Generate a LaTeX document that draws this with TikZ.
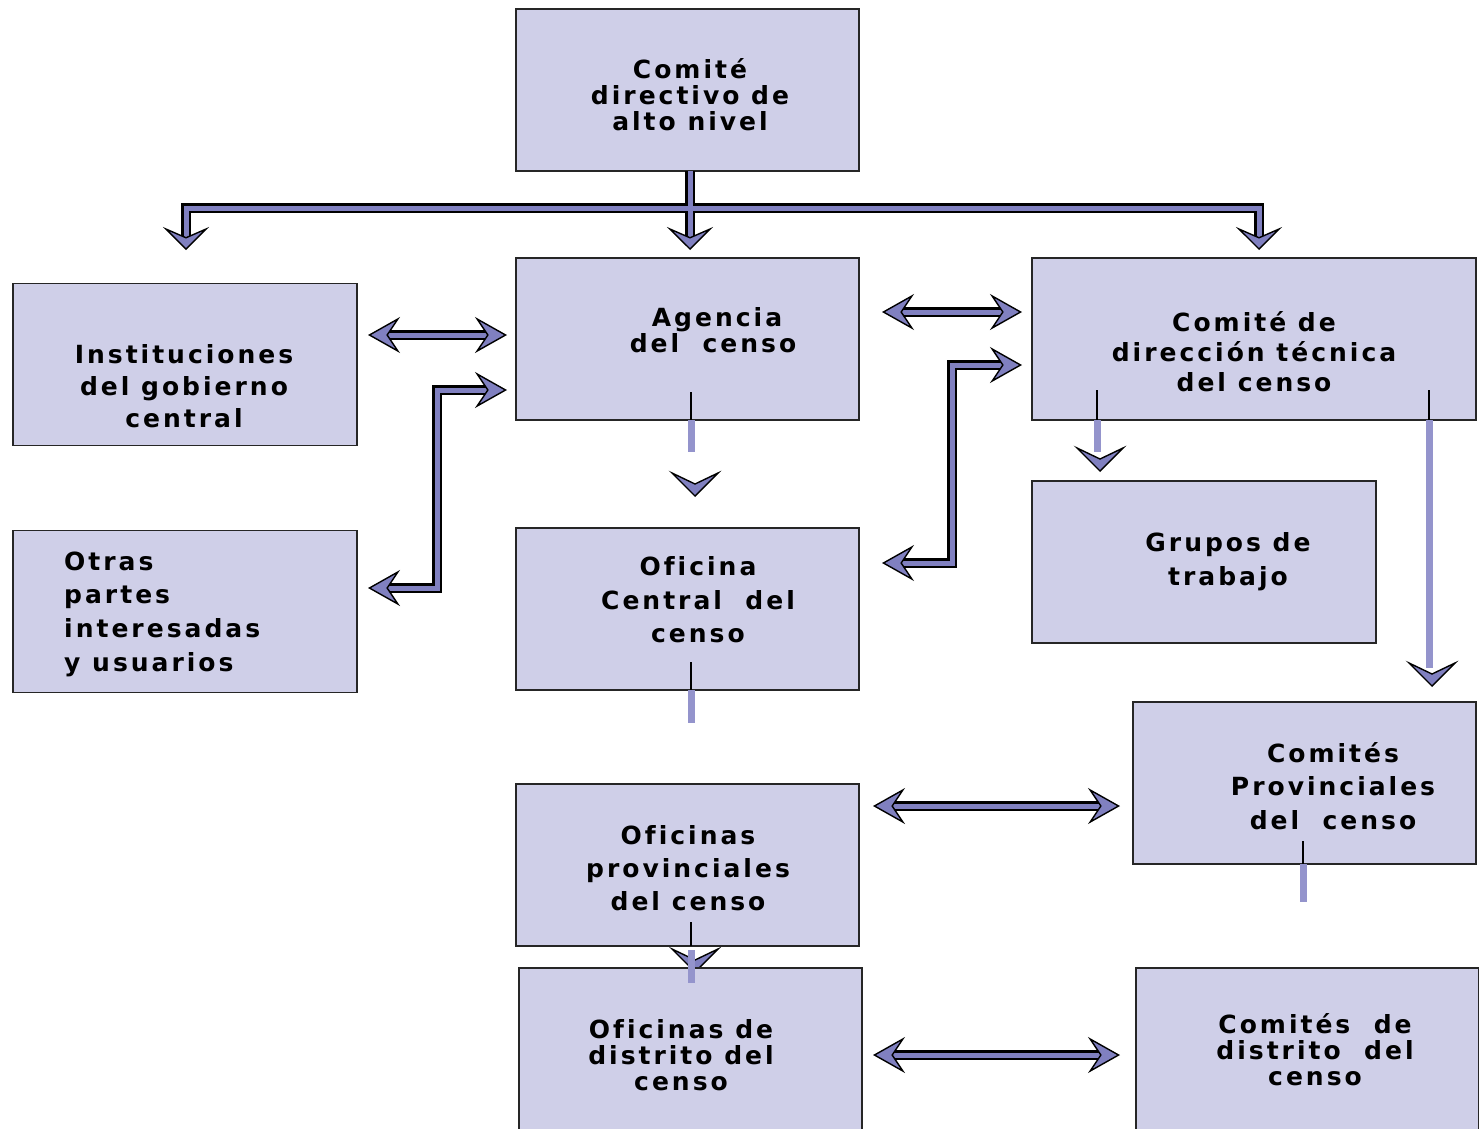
\documentclass[tikz,border=0pt]{standalone}
\usepackage{fontspec}
\newfontfamily\bx{DejaVu Sans}[LetterSpace=12,Ligatures=NoCommon]
\usetikzlibrary{arrows.meta}
\definecolor{boxcol}{RGB}{207,207,232}
\definecolor{arrowcol}{RGB}{128,128,192}
\definecolor{barcol}{RGB}{148,148,204}
\tikzset{
  HT/.tip={Stealth[length=32pt,width=36pt,inset=12pt,line width=1.4pt,color=black,fill=arrowcol]},
  VT/.tip={Stealth[length=23pt,width=46pt,inset=10pt,line width=1.4pt,color=black,fill=arrowcol]},
  box/.style={draw=black!85, line width=1.8pt, fill=boxcol, minimum width=343pt, minimum height=162pt, inner sep=0pt, outer sep=0pt},
  txt/.style={font=\bx\bfseries\fontsize{25}{#1}\selectfont, align=center, inner sep=0pt},
  hdbl/.style={draw=arrowcol, line width=5pt, {HT}-{HT}, preaction={draw=black, line width=9.5pt, -, shorten <=16pt, shorten >=16pt}},
  vsgl/.style={draw=arrowcol, line width=5pt, -{VT}, preaction={draw=black, line width=9.5pt, -, shorten >=12pt}},
  tick/.style={draw=black, line width=1.5pt},
  bar/.style={draw=barcol, line width=7pt},
  chev/.pic={\draw[black, line width=1.4pt, fill=arrowcol] (-23,-23) -- (0,0) -- (23,-23) -- (0,-12) -- cycle;}
}
\begin{document}
\begin{tikzpicture}[x=1pt,y=-1pt]
\useasboundingbox (0,0) rectangle (1479,1128);
\clip (0,0) rectangle (1479,1128);
\fill[white] (0,0) rectangle (1479,1128);
% chevron partly hidden behind the district office box
\pic at (695,972) {chev};
% boxes
\node[box] (top) at (687.5,90) {};
\node[box, minimum width=344pt] (inst) at (185,364.5) {};
\node[box] (ag) at (687.5,339) {};
\node[box, minimum width=444pt] (tec) at (1254,339) {};
\node[box, minimum width=344pt] (otras) at (185,611.5) {};
\node[box] (ofc) at (687.5,609) {};
\node[box, minimum width=344pt] (grp) at (1204,562) {};
\node[box] (cprov) at (1304.5,783) {};
\node[box] (ofprov) at (687.5,865) {};
\node[box] (ofdist) at (690.5,1049) {};
\node[box] (cdist) at (1307.5,1049) {};
% texts
\node[txt=26] (ttop) at (690,95) {Comité\\directivo de\\alto nivel};
\node[txt=32] (tinst) at (184,386) {Instituciones\\del gobierno\\central};
\node[txt=26] (tag) at (713,330) {\hspace*{8pt}Agencia\\del\ \ censo};
\node[txt=30] (ttec) at (1254,352) {Comité de\\dirección técnica\\del censo};
\node[txt=33.7, align=left, anchor=west] (totras) at (64,614) {Otras\\partes\\interesadas\\y usuarios};
\node[txt=33.5] (tofc) at (698,600) {Oficina\\Central\ \ del\\censo};
\node[txt=34] (tgrp) at (1228,562) {Grupos de\\trabajo};
\node[txt=33.5] (tcprov) at (1333,786) {Comités\\Provinciales\\del\ \ censo};
\node[txt=33] (tofprov) at (688,868) {Oficinas\\provinciales\\del censo};
\node[txt=26] (tofdist) at (681,1055) {Oficinas de\\distrito del\\censo};
\node[txt=26] (tcdist) at (1315,1050) {Comités\ \ de\\distrito\ \ del\\censo};
% tree from the top committee
\coordinate (ts) at (690,171);
\coordinate (tl) at (186,208);
\coordinate (tr) at (1259,208);
\coordinate (a1) at (186,250);
\coordinate (a2) at (690,250);
\coordinate (a3) at (1259,250);
\draw[vsgl] (ts) -- (a2);
\draw[vsgl] (ts) |- (tl) -- (a1);
\draw[vsgl] (ts) |- (tr) -- (a3);
\draw[draw=arrowcol, line width=5pt] (tl) -- (tr) (ts) -- (690,226);
% horizontal double arrows
\coordinate (h1a) at (368,335); \coordinate (h1b) at (507,335);
\draw[hdbl] (h1a) -- (h1b);
\coordinate (h2a) at (882,312); \coordinate (h2b) at (1022,312);
\draw[hdbl] (h2a) -- (h2b);
\coordinate (h3a) at (873,806); \coordinate (h3b) at (1120,806);
\draw[hdbl] (h3a) -- (h3b);
\coordinate (h4a) at (873,1055); \coordinate (h4b) at (1120,1055);
\draw[hdbl] (h4a) -- (h4b);
% elbow double arrows
\coordinate (e1a) at (368,588); \coordinate (e1b) at (507,390);
\draw[hdbl] (e1a) -| (437,390) -- (e1b);
\coordinate (e2a) at (882,563); \coordinate (e2b) at (1022,365);
\draw[hdbl] (e2a) -| (952,365) -- (e2b);
% broken downward connectors
\draw[tick] (691,392) -- (691,420);
\draw[bar] (691,420) -- (691,452);
\pic at (695,496) {chev};
\draw[tick] (691,662) -- (691,690);
\draw[bar] (691,690) -- (691,723);
\draw[tick] (1097,390) -- (1097,420);
\draw[bar] (1097,420) -- (1097,452);
\pic at (1100,471) {chev};
\draw[tick] (1429,390) -- (1429,420);
\draw[bar] (1429,420) -- (1429,668);
\pic at (1432,686) {chev};
\draw[tick] (1303,841) -- (1303,864);
\draw[bar] (1303,864) -- (1303,902);
\draw[tick] (691,922) -- (691,946);
\draw[bar] (691,950) -- (691,983);
\end{tikzpicture}
\end{document}
